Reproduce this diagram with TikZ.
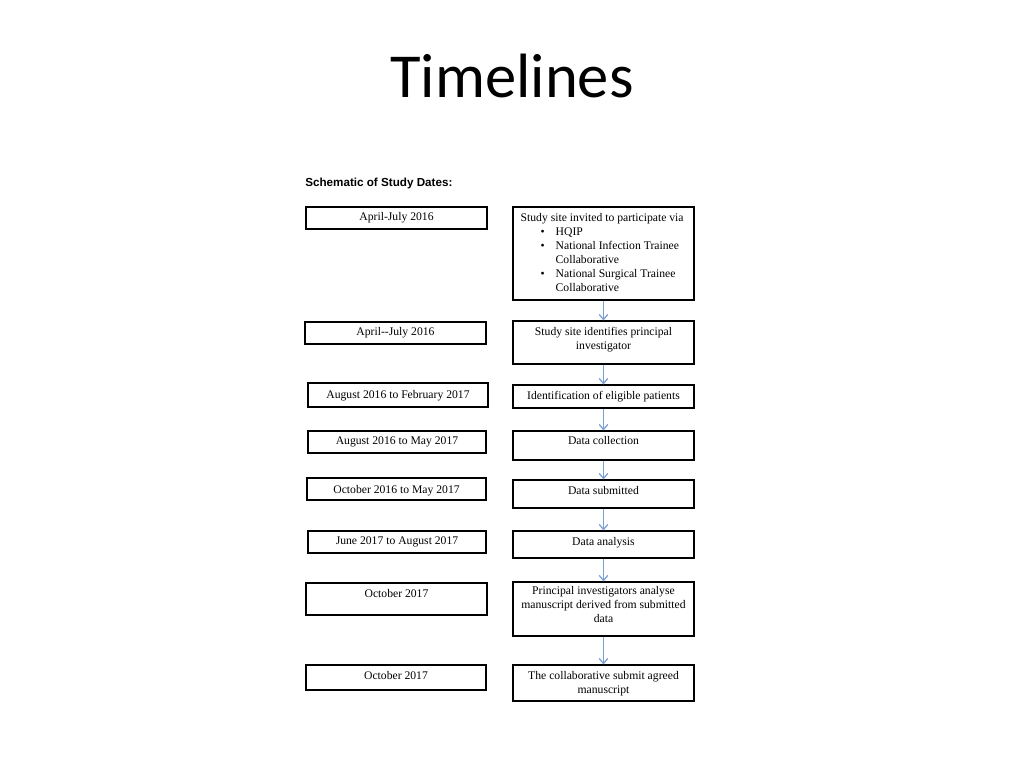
\documentclass[tikz,border=0pt]{standalone}
\usepackage{fontspec}
\setmainfont{Liberation Serif}
\newfontfamily\headfont{Liberation Sans}
\newfontfamily\titlefont{Carlito}
\usetikzlibrary{arrows.meta}
\usetikzlibrary{fit}
\usetikzlibrary{positioning}

\definecolor{arrowblue}{RGB}{122,160,212}

\begin{document}
\begin{tikzpicture}[x=0.703pt,y=-0.703pt,
    box/.style={draw,line width=0.8pt,inner sep=0pt},
    txt/.style={inner sep=0pt,font=\fontsize{8.2}{9.85}\selectfont,align=center},
    flow/.style={draw,arrowblue,line width=0.9pt,-{Straight Barb[length=3.5pt,width=6pt]}}]

  \useasboundingbox (0,0) rectangle (1024,768);

  \node [anchor=base,inner sep=0pt,font=\titlefont\fontsize{44}{53}\selectfont] (title) at (512,97) {Timelines};
  \node [anchor=base west,inner sep=0pt,font=\headfont\bfseries\fontsize{8.2}{10}\selectfont] (head) at (305,186) {Schematic of Study Dates:};

  % dates column
  \node [box,fit={(306,207) (487,229)}] (d1) {};
  \node [box,fit={(305,322) (486,344)}] (d2) {};
  \node [box,fit={(308,383) (488,407)}] (d3) {};
  \node [box,fit={(308,431) (486,453)}] (d4) {};
  \node [box,fit={(307,478) (486,500)}] (d5) {};
  \node [box,fit={(308,531) (486,553)}] (d6) {};
  \node [box,fit={(306,583) (487,615)}] (d7) {};
  \node [box,fit={(306,665) (486,690)}] (d8) {};

  \node [txt,below=4.2pt of d1.north] (d1t) {April-July 2016};
  \node [txt,below=4.2pt of d2.north] (d2t) {April-{}-July 2016};
  \node [txt,below=5.2pt of d3.north] (d3t) {August 2016 to February 2017};
  \node [txt,below=4.2pt of d4.north] (d4t) {August 2016 to May 2017};
  \node [txt,below=5.2pt of d5.north] (d5t) {October 2016 to May 2017};
  \node [txt,below=4.2pt of d6.north] (d6t) {June 2017 to August 2017};
  \node [txt,below=4.6pt of d7.north] (d7t) {October 2017};
  \node [txt,below=4.6pt of d8.north] (d8t) {October 2017};

  % steps column
  \node [box,fit={(513,207) (694,300)}] (s1) {};
  \node [box,fit={(513,321) (694,364)}] (s2) {};
  \node [box,fit={(513,385) (694,408)}] (s3) {};
  \node [box,fit={(513,431) (694,460)}] (s4) {};
  \node [box,fit={(513,480) (694,508)}] (s5) {};
  \node [box,fit={(513,531) (694,558)}] (s6) {};
  \node [box,fit={(513,582) (694,636)}] (s7) {};
  \node [box,fit={(513,665) (694,701)}] (s8) {};

  \node [txt,align=left,below right=4.9pt and 5.6pt of s1.north west] (s1t)
    {Study site invited to participate via\\
     \hspace*{14pt}\makebox[10.6pt][l]{\textbullet}HQIP\\
     \hspace*{14pt}\makebox[10.6pt][l]{\textbullet}National Infection Trainee\\
     \hspace*{24.6pt}Collaborative\\
     \hspace*{14pt}\makebox[10.6pt][l]{\textbullet}National Surgical Trainee\\
     \hspace*{24.6pt}Collaborative};
  \node [txt,below=4.9pt of s2.north] (s2t) {Study site identifies principal\\investigator};
  \node [txt,below=4.6pt of s3.north] (s3t) {Identification of eligible patients};
  \node [txt,below=4.2pt of s4.north] (s4t) {Data collection};
  \node [txt,below=4.6pt of s5.north] (s5t) {Data submitted};
  \node [txt,below=4.6pt of s6.north] (s6t) {Data analysis};
  \node [txt,below=3.5pt of s7.north] (s7t) {Principal investigators analyse\\manuscript derived from submitted\\data};
  \node [txt,below=4.6pt of s8.north] (s8t) {The collaborative submit agreed\\manuscript};

  \path [flow]
    (s1) edge (s2)
    (s2) edge (s3)
    (s3) edge (s4)
    (s4) edge (s5)
    (s5) edge (s6)
    (s6) edge (s7)
    (s7) edge (s8);

\end{tikzpicture}
\end{document}
